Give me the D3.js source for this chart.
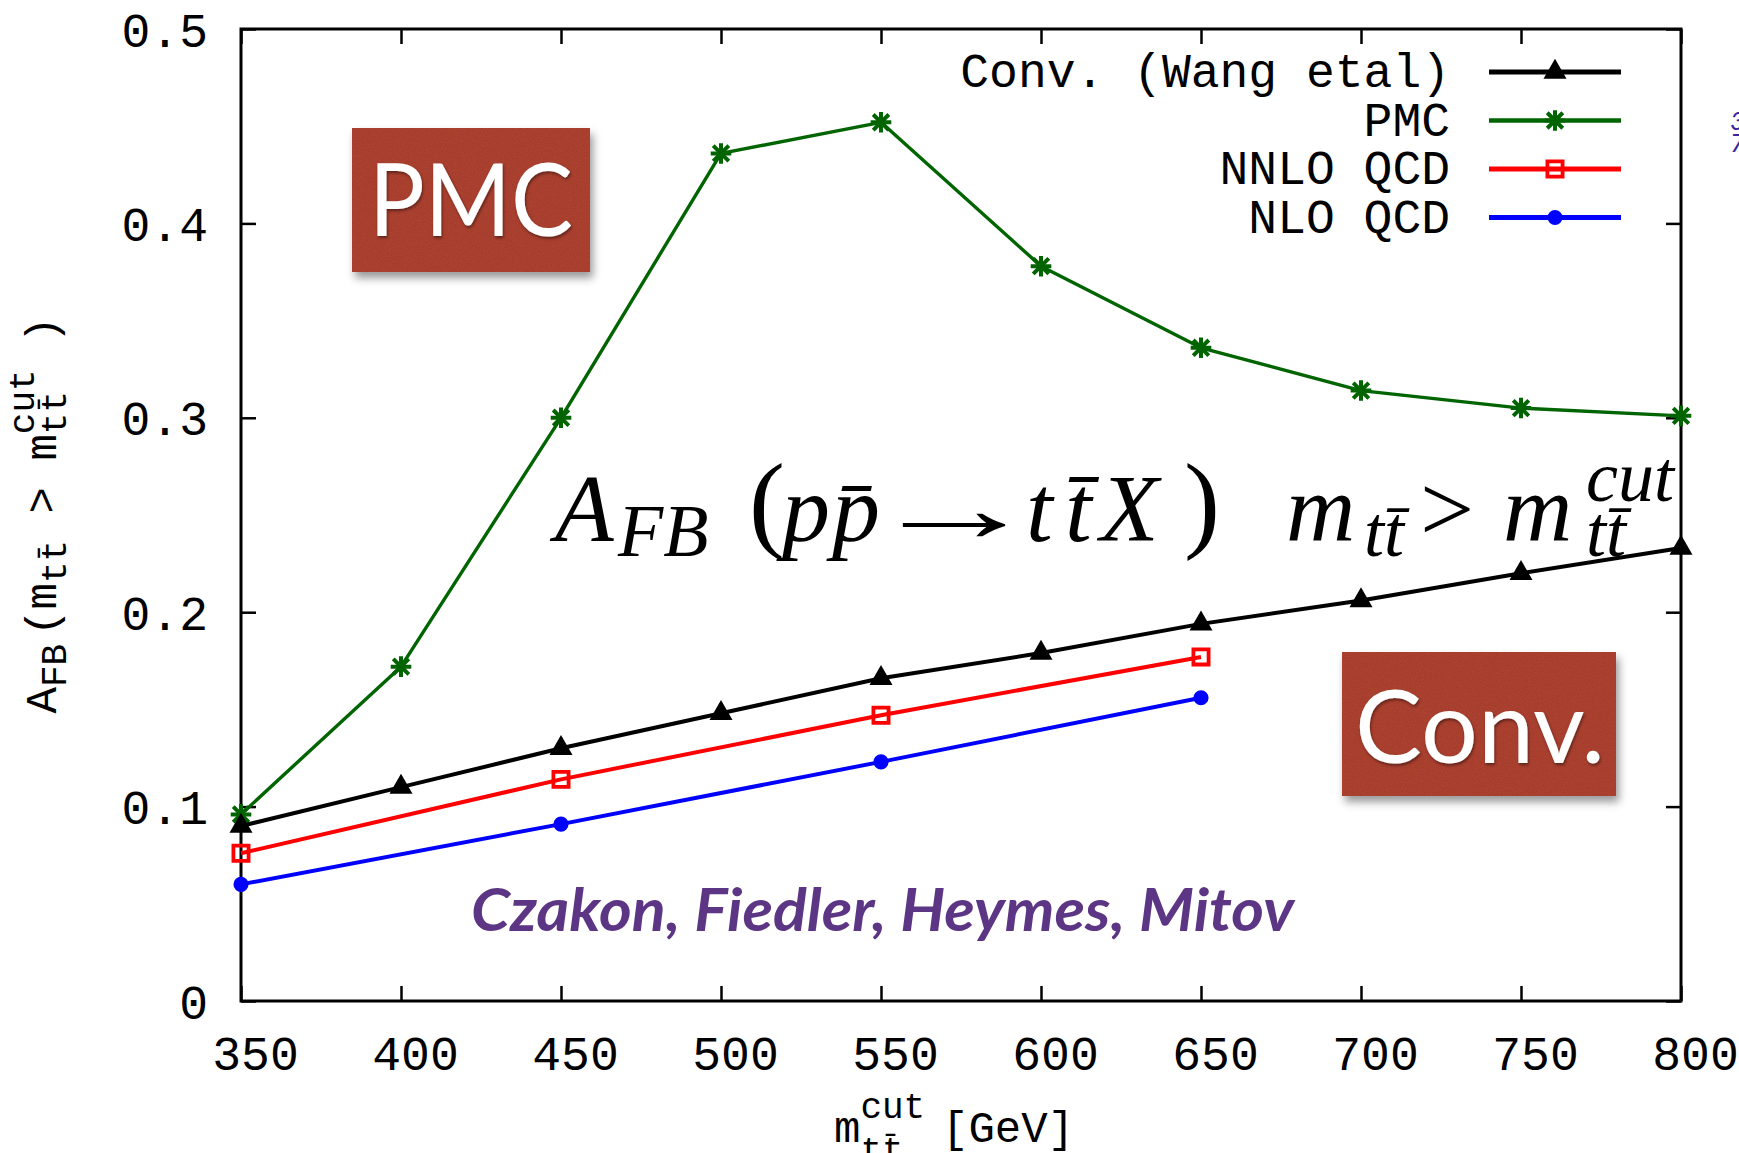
<!DOCTYPE html>
<html>
<head>
<meta charset="utf-8">
<script src="https://cdn.jsdelivr.net/npm/d3@7"></script>
<style>
  html, body { margin: 0; padding: 0; background: #ffffff; }
  svg { display: block; }
</style>
</head>
<body>
<svg id="chart" width="1739" height="1153"></svg>
<script>
// ---- data -------------------------------------------------------------
const massCuts   = [350, 400, 450, 500, 550, 600, 650, 700, 750, 800];
const convWang   = [0.090, 0.110, 0.130, 0.148, 0.166, 0.179, 0.194, 0.206, 0.220, 0.233];
const pmcValues  = [0.096, 0.172, 0.300, 0.436, 0.452, 0.378, 0.336, 0.314, 0.305, 0.301];
const qcdCuts    = [350, 450, 550, 650];
const nnloQCD    = [0.076, 0.114, 0.147, 0.177];
const nloQCD     = [0.060, 0.091, 0.123, 0.156];
const xTicks     = [350, 400, 450, 500, 550, 600, 650, 700, 750, 800];
const yTicks     = [0, 0.1, 0.2, 0.3, 0.4, 0.5];
const yTickLabels = ["0", "0.1", "0.2", "0.3", "0.4", "0.5"];
const seriesNames = ["Conv. (Wang etal)", "PMC", "NNLO QCD", "NLO QCD"];
const authors    = "Czakon, Fiedler, Heymes, Mitov";

// ---- layout -----------------------------------------------------------
const svg = d3.select("#chart");
const plot = { left: 241, right: 1681, top: 29, bottom: 1001 };
const x = d3.scaleLinear().domain([350, 800]).range([plot.left, plot.right]);
const y = d3.scaleLinear().domain([0, 0.5]).range([plot.bottom, plot.top]);
const mono = "'Liberation Mono', 'DejaVu Sans Mono', monospace";
const serif = "'Liberation Serif', 'DejaVu Serif', serif";
const sans = "Lato, 'Open Sans', sans-serif";
const bar = "\u0304";

// ---- filters ----------------------------------------------------------
const defs = svg.append("defs");
defs.append("filter").attr("id", "boxShadow")
  .attr("x", "-10%").attr("y", "-10%").attr("width", "125%").attr("height", "135%")
  .append("feDropShadow").attr("dx", 3).attr("dy", 6).attr("stdDeviation", 4)
  .attr("flood-color", "#000").attr("flood-opacity", 0.4);
const grain = defs.append("filter").attr("id", "grain");
grain.append("feTurbulence").attr("type", "fractalNoise").attr("baseFrequency", 0.8)
  .attr("numOctaves", 2).attr("seed", 7).attr("result", "noise");
grain.append("feColorMatrix").attr("in", "noise").attr("type", "matrix")
  .attr("values", "0 0 0 0 0  0 0 0 0 0  0 0 0 0 0  0.35 0 0 0 -0.12").attr("result", "speck");
grain.append("feComposite").attr("in", "speck").attr("in2", "SourceGraphic").attr("operator", "in").attr("result", "clipped");
const gm = grain.append("feMerge");
gm.append("feMergeNode").attr("in", "SourceGraphic");
gm.append("feMergeNode").attr("in", "clipped");
defs.append("filter").attr("id", "textShadow")
  .attr("x", "-10%").attr("y", "-10%").attr("width", "125%").attr("height", "135%")
  .append("feDropShadow").attr("dx", 1).attr("dy", 2).attr("stdDeviation", 1.5)
  .attr("flood-color", "#000").attr("flood-opacity", 0.45);

// ---- axes frame + ticks ----------------------------------------------
const axisStyle = g => {
  g.select(".domain").remove();
  g.selectAll(".tick line").attr("stroke", "#000").attr("stroke-width", 2.5);
};
svg.append("g").attr("transform", `translate(0,${plot.bottom})`)
  .call(d3.axisBottom(x).tickValues(xTicks).tickSize(-15).tickPadding(0).tickFormat(d3.format("d")))
  .call(axisStyle)
  .call(g => g.selectAll(".tick text")
    .attr("font-family", mono).attr("font-size", 48).attr("fill", "#000")
    .attr("dy", null).attr("y", 69).attr("dx", 14));
svg.append("g").attr("transform", `translate(0,${plot.top})`)
  .call(d3.axisTop(x).tickValues(xTicks).tickSize(-15).tickFormat(""))
  .call(axisStyle);
svg.append("g").attr("transform", `translate(${plot.left},0)`)
  .call(d3.axisLeft(y).tickValues(yTicks).tickSize(-15).tickPadding(0)
    .tickFormat((d, i) => yTickLabels[i]))
  .call(axisStyle)
  .call(g => g.selectAll(".tick text")
    .attr("font-family", mono).attr("font-size", 48).attr("fill", "#000")
    .attr("dy", null).attr("y", 17).attr("x", -33));
svg.append("g").attr("transform", `translate(${plot.right},0)`)
  .call(d3.axisRight(y).tickValues(yTicks).tickSize(-15).tickFormat(""))
  .call(axisStyle);
svg.append("rect")
  .attr("x", plot.left).attr("y", plot.top)
  .attr("width", plot.right - plot.left).attr("height", plot.bottom - plot.top)
  .attr("fill", "none").attr("stroke", "#000").attr("stroke-width", 3);

// ---- label boxes --------------------------------------------------------
function labelBox(bx, by, bw, bh, label, tx, ty, tlen) {
  const g = svg.append("g").attr("filter", "url(#boxShadow)");
  g.append("rect").attr("x", bx).attr("y", by).attr("width", bw).attr("height", bh)
    .attr("fill", "#ad4331").attr("filter", "url(#grain)");
  svg.append("text").attr("x", tx).attr("y", ty)
    .attr("font-family", sans).attr("font-size", 100).attr("fill", "#ffffff")
    .attr("textLength", tlen).attr("lengthAdjust", "spacingAndGlyphs")
    .attr("filter", "url(#textShadow)")
    .text(label);
}
labelBox(352, 128, 238, 144, "PMC", 369, 236, 204);
labelBox(1342, 652, 274, 144, "Conv.", 1355, 763, 250);

// ---- series -------------------------------------------------------------
const series = [
  { name: seriesNames[1], xs: massCuts, ys: pmcValues, color: "#006400", width: 3.4, mark: "star" },
  { name: seriesNames[0], xs: massCuts, ys: convWang,  color: "#000000", width: 4,   mark: "triangle" },
  { name: seriesNames[2], xs: qcdCuts,  ys: nnloQCD,   color: "#ff0000", width: 4,   mark: "square" },
  { name: seriesNames[3], xs: qcdCuts,  ys: nloQCD,    color: "#0000ff", width: 4,   mark: "circle" }
];
const line = d3.line().x(d => x(d[0])).y(d => y(d[1]));

function drawMark(g, kind, color) {
  if (kind === "triangle") {
    g.append("path").attr("d", d3.symbol(d3.symbolTriangle, 230)()).attr("fill", color);
  } else if (kind === "square") {
    g.append("path").attr("d", d3.symbol(d3.symbolSquare, 230)())
      .attr("fill", "none").attr("stroke", color).attr("stroke-width", 3.8);
  } else if (kind === "circle") {
    g.append("path").attr("d", d3.symbol(d3.symbolCircle, 180)()).attr("fill", color);
  } else {
    g.append("path").attr("d", d3.symbol(d3.symbolPlus, 140)())
      .attr("fill", "none").attr("stroke", color).attr("stroke-width", 4);
    g.append("path").attr("d", d3.symbol(d3.symbolTimes, 160)())
      .attr("fill", "none").attr("stroke", color).attr("stroke-width", 4);
  }
}

series.forEach(s => {
  const pts = s.xs.map((v, i) => [v, s.ys[i]]);
  svg.append("path").datum(pts).attr("d", line)
    .attr("fill", "none").attr("stroke", s.color).attr("stroke-width", s.width)
    .attr("stroke-linejoin", "round");
  pts.forEach(p => {
    const g = svg.append("g").attr("transform", `translate(${x(p[0])},${y(p[1])})`);
    drawMark(g, s.mark, s.color);
  });
});

// ---- legend -------------------------------------------------------------
const legendOrder = [1, 0, 2, 3];
legendOrder.forEach((si, row) => {
  const s = series[si];
  const cy = 72 + row * 48.5;
  svg.append("text").attr("x", 1450).attr("y", cy + 15)
    .attr("text-anchor", "end").attr("font-family", mono).attr("font-size", 48)
    .attr("fill", "#000").text(s.name);
  svg.append("line").attr("x1", 1489).attr("x2", 1621).attr("y1", cy).attr("y2", cy)
    .attr("stroke", s.color).attr("stroke-width", s.width + 1);
  drawMark(svg.append("g").attr("transform", `translate(1555,${cy})`), s.mark, s.color);
});

// ---- formula: A_FB(p pbar -> t tbar X)   m_ttbar > m^cut_ttbar ----------------
const formula = svg.append("text").attr("font-family", serif).attr("fill", "#000");
const piece = (t, px, py, size, italic) => {
  const sp = formula.append("tspan").attr("x", px).attr("y", py)
    .attr("font-size", size).text(t);
  if (italic) sp.attr("font-style", "italic");
  return sp;
};
piece("A", 555, 541, 96, true);
piece("FB", 618, 556, 74, true);
piece("(", 749, 538, 108, false);
piece("p", 782, 541, 96, true);
piece("p" + bar, 832, 541, 96, true);
piece("t", 1026, 541, 96, true);
piece("t" + bar, 1065, 541, 96, true);
piece("X", 1100, 541, 96, true);
piece(")", 1184, 538, 108, false);
piece("m", 1286, 541, 96, true);
piece("tt" + bar, 1364, 556, 72, true);
piece(">", 1420, 541, 96, false);
piece("m", 1503, 541, 96, true);
piece("cut", 1586, 501, 72, true);
piece("tt" + bar, 1586, 556, 72, true);
// long thin arrow, stretched horizontally
svg.append("text").attr("transform", "translate(868,541) scale(1.8,1)")
  .attr("font-family", serif).attr("font-size", 96).attr("fill", "#000")
  .text("\u2192");

// ---- authors --------------------------------------------------------------
svg.append("text").attr("x", 471).attr("y", 931)
  .attr("font-family", sans).attr("font-weight", 700).attr("font-style", "italic")
  .attr("font-size", 60).attr("fill", "#5c3684")
  .attr("textLength", 823).attr("lengthAdjust", "spacingAndGlyphs")
  .text(authors);

// ---- axis titles ------------------------------------------------------------
const xt = svg.append("text").attr("x", 834).attr("y", 1142)
  .attr("font-family", mono).attr("font-size", 44).attr("fill", "#000");
xt.append("tspan").text("m");
xt.append("tspan").attr("font-size", 36).attr("dy", -24).text("cut");
xt.append("tspan").attr("font-size", 36).attr("dy", 44).attr("dx", -64.8).text("tt" + bar);
xt.append("tspan").attr("dy", -20).attr("dx", 12).text(" [GeV]");

const yt = svg.append("text").attr("transform", "translate(56,515) rotate(-90)")
  .attr("text-anchor", "middle").attr("font-family", mono).attr("font-size", 44).attr("fill", "#000");
yt.append("tspan").text("A");
yt.append("tspan").attr("font-size", 36).attr("dy", 10).text("FB");
yt.append("tspan").attr("dy", -10).attr("dx", 8).text("(m");
yt.append("tspan").attr("font-size", 36).attr("dy", 10).text("tt" + bar);
yt.append("tspan").attr("dy", -10).text(" > m");
yt.append("tspan").attr("font-size", 36).attr("dy", -22).text("cut");
yt.append("tspan").attr("font-size", 36).attr("dy", 32).attr("dx", -64.8).text("tt" + bar);
yt.append("tspan").attr("dy", -10).attr("dx", 21.6).text(" )");

// ---- text running off the right edge ------------------------------------------
const edge = svg.append("text").attr("font-family", sans).attr("font-style", "italic")
  .attr("font-size", 26).attr("fill", "#3b249c");
edge.append("tspan").attr("x", 1730).attr("y", 130).text("3");
edge.append("tspan").attr("x", 1730).attr("y", 152).text("7");
</script>
</body>
</html>
